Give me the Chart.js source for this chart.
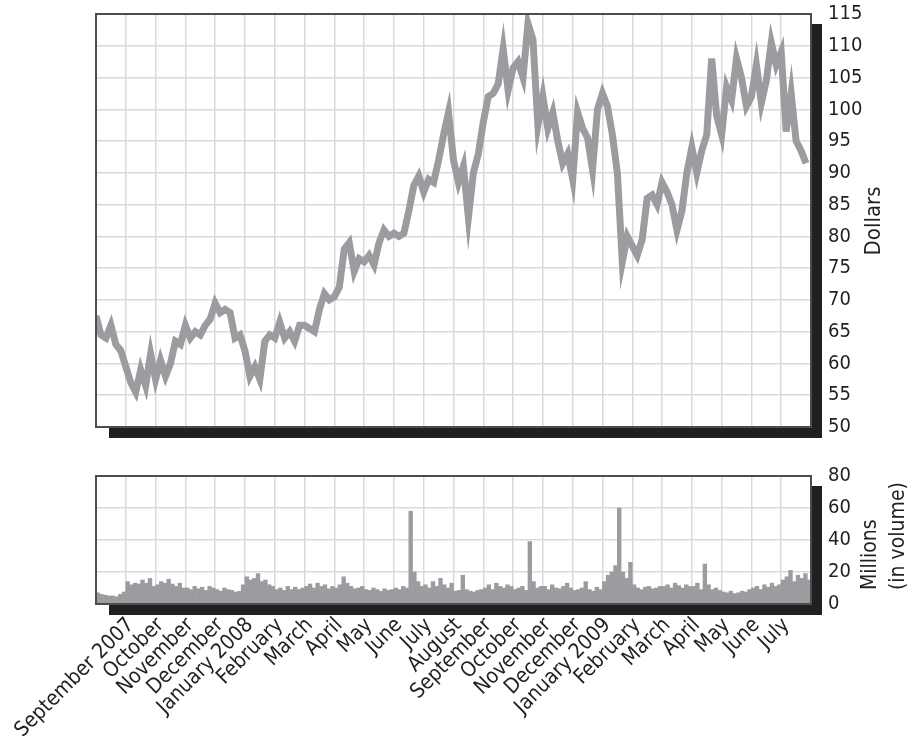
<!DOCTYPE html>
<html>
<head>
<meta charset="utf-8">
<script src="https://cdn.jsdelivr.net/npm/chart.js@4.4.1/dist/chart.umd.min.js"></script>
<style>
  html, body { margin: 0; padding: 0; background: #fff; }
  #wrap { position: relative; width: 913px; height: 738px; overflow: hidden; }
  #priceBox { position: absolute; left: 0; top: 0; width: 913px; height: 440px; }
  #volBox { position: absolute; left: 0; top: 440px; width: 913px; height: 298px; }
</style>
</head>
<body>
<div id="wrap">
  <div id="priceBox"><canvas id="priceChart"></canvas></div>
  <div id="volBox"><canvas id="volChart"></canvas></div>
</div>
<script>
// month boundaries 0..24, label sits on the boundary line
const monthLabels = ['', 'September 2007', 'October', 'November', 'December', 'January 2008',
  'February', 'March', 'April', 'May', 'June', 'July', 'August', 'September', 'October',
  'November', 'December', 'January 2009', 'February', 'March', 'April', 'May', 'June', 'July', ''];

// closing price, 6 readings per month
const pricePerMonth = 6;
const prices = [
  67.5, 64.5, 64, 66, 63, 62,
  59.5, 57, 55.5, 59, 56.5, 61.5,
  57.5, 60.5, 58, 60, 63.5, 63,
  66, 64, 65, 64.5, 66, 67,
  69.5, 68, 68.5, 68, 64, 64.5,
  62, 58, 59.5, 57.5, 63.5, 64.5,
  64, 66.5, 64, 65, 63.5, 66,
  66, 65.5, 65, 68.5, 71, 70,
  70.5, 72, 78, 79, 74.5, 76.5,
  76, 77, 75.5, 79, 81, 80,
  80.5, 80, 80.5, 84, 88, 89.5,
  87, 89, 88.5, 92, 96, 99.5,
  92, 88.5, 91, 83, 90, 93,
  98, 102, 102.5, 104, 109.5, 103,
  106.5, 107.5, 105, 113.5, 111, 97.5,
  102, 97, 99.5, 95, 91.5, 93,
  89, 99.5, 97, 95.5, 90.5, 100,
  102.5, 100.5, 96, 90, 76, 80,
  78.5, 77, 79.5, 86, 86.5, 85,
  88.5, 87, 85, 81, 84, 90,
  94, 90, 93.5, 96, 108, 99,
  96, 103.5, 101.5, 108, 105, 100.5,
  102, 107, 101, 104.5, 110.5, 107,
  109, 96.5, 102.5, 95, 93.5, 91.5
];

// volume in millions, 8 readings per month
const volPerMonth = 8;
const volumes = [
  7, 6, 5.5, 5, 5, 4.5, 6, 7.5,
  14, 12, 13, 12.5, 15, 13, 16, 11,
  12, 14, 13, 15.5, 12.5, 11, 13, 10,
  10, 9, 11, 9.5, 10.5, 8.5, 11, 10,
  9, 8, 10, 9, 8.5, 7.5, 8, 12,
  17, 15, 16, 19, 14, 15, 12, 11,
  9, 10, 8.5, 11, 9, 10.5, 9, 10,
  11, 12.5, 10, 13, 11, 12, 9.5, 11,
  10, 12, 17, 13, 11, 9.5, 10, 11,
  9, 8.5, 10, 9, 8, 9.5, 8.5, 9,
  10, 9, 11, 10, 58, 20, 14, 11,
  12, 10, 14, 11, 16, 12, 10, 13,
  8, 8.5, 18, 9, 8, 7.5, 8.5, 9,
  10, 12, 9, 13, 11, 10, 12, 11,
  9, 10, 11, 8.5, 39, 14, 10, 11,
  11, 9, 12, 10, 9.5, 11, 13, 10,
  8.5, 9, 10, 14, 9, 8, 10.5, 9,
  14, 18, 20, 24, 60, 20, 16, 26,
  12, 10, 9, 10.5, 11, 9.5, 10, 11,
  11, 12, 10, 13, 11.5, 10, 12, 11,
  11, 13, 9, 25, 12, 9, 10, 8.5,
  7.5, 7, 8, 6.5, 7, 8, 7.5, 9,
  10, 11, 9, 12, 10.5, 13, 11, 12,
  15, 17, 21, 14, 18, 16, 19, 15
];

const FONT = "'Liberation Sans Narrow', 'DejaVu Sans Condensed', sans-serif";
const INK = '#231f20';
const GREY = '#9b9ca0';
const GRID = '#d9d9d9';

Chart.defaults.font.family = FONT;
Chart.defaults.font.size = 21;
Chart.defaults.color = INK;

// black drop shadow + thin frame around the plot area
const frame = {
  id: 'frame',
  afterDraw(chart) {
    const { ctx, chartArea: a } = chart;
    ctx.save();
    ctx.fillStyle = INK;
    ctx.fillRect(a.left + 13, a.bottom, a.right - a.left - 2, 11);
    ctx.fillRect(a.right, a.top + 10, 11, a.bottom - a.top + 1);
    ctx.strokeStyle = '#4d4d4d';
    ctx.lineWidth = 2;
    ctx.strokeRect(a.left, a.top, a.right - a.left, a.bottom - a.top);
    ctx.restore();
  }
};

// axis title that reads bottom-to-top on the right side
const sideTitle = {
  id: 'sideTitle',
  afterDraw(chart, args, opts) {
    const ctx = chart.ctx;
    ctx.save();
    ctx.font = opts.size + 'px ' + FONT;
    ctx.fillStyle = INK;
    ctx.textBaseline = 'middle';
    ctx.textAlign = opts.align;
    opts.lines.forEach((t, i) => {
      ctx.save();
      ctx.translate(opts.x[i], opts.y);
      ctx.rotate(-Math.PI / 2);
      ctx.fillText(t, 0, 0);
      ctx.restore();
    });
    ctx.restore();
  }
};

function xScale(showLabels) {
  return {
    type: 'linear', min: 0, max: 24, offset: false,
    ticks: {
      display: showLabels, stepSize: 1, autoSkip: false,
      maxRotation: 45, minRotation: 45, padding: 9, labelOffset: 5,
      callback: v => monthLabels[v] || ''
    },
    grid: { color: GRID, lineWidth: 1.5, drawTicks: false, offset: false },
    border: { display: false }
  };
}

function yScale(min, max, step) {
  return {
    position: 'right', min: min, max: max,
    ticks: { stepSize: step, padding: 17, font: { size: 20 } },
    grid: { color: GRID, lineWidth: 1.5, drawTicks: false },
    border: { display: false },
    afterFit: s => { s.width = 102; s.paddingTop = 0; s.paddingBottom = 0; }
  };
}

const priceX = xScale(false);
priceX.afterFit = s => { s.height = 0; s.paddingLeft = 0; s.paddingRight = 0; };

new Chart(document.getElementById('priceChart'), {
  type: 'line',
  data: {
    datasets: [{
      data: prices.map((p, i) => ({ x: i / pricePerMonth, y: p })),
      borderColor: GREY,
      borderWidth: 7,
      pointRadius: 0,
      tension: 0,
      fill: false
    }]
  },
  options: {
    responsive: true, maintainAspectRatio: false, animation: false, events: [],
    layout: { padding: { left: 96, top: 14, right: 0, bottom: 13 } },
    plugins: {
      legend: { display: false }, tooltip: { enabled: false },
      sideTitle: { lines: ['Dollars'], x: [874], y: 221, size: 22, align: 'center' }
    },
    scales: {
      x: priceX,
      y: yScale(50, 115, 5)
    }
  },
  plugins: [frame, sideTitle]
});

const volX = xScale(true);
volX.afterFit = s => { s.height = 134; s.paddingLeft = 0; s.paddingRight = 0; };

new Chart(document.getElementById('volChart'), {
  type: 'bar',
  data: {
    datasets: [{
      data: volumes.map((v, i) => ({ x: (i + 0.5) / volPerMonth, y: v })),
      backgroundColor: GREY,
      borderWidth: 0,
      barPercentage: 1,
      categoryPercentage: 1
    }]
  },
  options: {
    responsive: true, maintainAspectRatio: false, animation: false, events: [],
    layout: { padding: { left: 96, top: 36, right: 0, bottom: 0 } },
    plugins: {
      legend: { display: false }, tooltip: { enabled: false },
      sideTitle: { lines: ['Millions', '(in volume)'], x: [871, 899], y: 150, size: 21, align: 'left' }
    },
    scales: {
      x: volX,
      y: yScale(0, 80, 20)
    }
  },
  plugins: [frame, sideTitle]
});
</script>
</body>
</html>
